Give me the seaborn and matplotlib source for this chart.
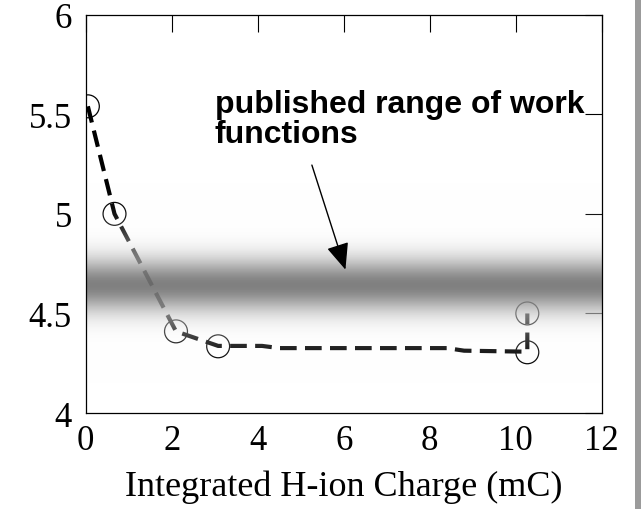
import numpy as np
import pandas as pd
import matplotlib
matplotlib.use("Agg")
import matplotlib.pyplot as plt
import seaborn as sns
from matplotlib.patches import Rectangle, ArrowStyle

# Measured work function vs. integrated H-ion charge
charge_mC = [0.05, 0.67, 2.10, 3.08, 10.27, 10.27]
work_fn_eV = [5.54, 5.00, 4.41, 4.335, 4.305, 4.50]

# Dashed trend line through the measurements
trend_charge = [0.05, 0.67, 2.10, 3.08, 4.10, 4.50, 8.40, 8.80, 10.27, 10.27]
trend_work_fn = [5.54, 5.00, 4.41, 4.337, 4.337, 4.326, 4.326, 4.313, 4.308, 4.50]

# Published work-function range shown as a shaded band
band_center = 4.64

x_ticks = [0, 2, 4, 6, 8, 10, 12]
x_tick_labels = ["0", "2", "4", "6", "8", "10", "12"]
y_ticks = [4.0, 4.5, 5.0, 5.5, 6.0]
y_tick_labels = ["4", "4.5", "5", "5.5", "6"]

x_label = "Integrated H-ion Charge (mC)"
note_text = "published range of work\nfunctions"

sns.set_style("white")
plt.rcParams["font.family"] = ["Liberation Serif", "DejaVu Serif"]
plt.rcParams["text.color"] = "black"
plt.rcParams["axes.labelcolor"] = "black"
plt.rcParams["xtick.color"] = "black"
plt.rcParams["ytick.color"] = "black"

fig = plt.figure(figsize=(6.41, 5.10), dpi=100)
ax = fig.add_axes([0.1337, 0.1882, 0.8050, 0.7810])

trend = pd.DataFrame({"charge": trend_charge, "wf": trend_work_fn})
points = pd.DataFrame({"charge": charge_mC, "wf": work_fn_eV})

sns.lineplot(data=trend, x="charge", y="wf", sort=False, estimator=None,
             ax=ax, color="black", lw=3.0, zorder=2)
ax.lines[-1].set_dashes([4, 2])
ax.lines[-1].set_dash_capstyle("butt")

sns.scatterplot(data=points, x="charge", y="wf", ax=ax, s=272,
                marker="o", facecolors="none", edgecolor="black",
                linewidth=0.9, zorder=2.2, clip_on=True)

# Shaded band: per-row grey colour and opacity, drawn over the data
yy = np.linspace(4.15, 5.15, 500)
d = np.abs(yy - band_center)
alpha = 0.92 * np.exp(-(d / 0.23) ** 2)
dark = 127 * np.exp(-(d / 0.13) ** 2)
col = np.clip(255 - dark / np.maximum(alpha, 1e-6), 0, 255) / 255.0
rgba = np.zeros((len(yy), 1, 4))
rgba[:, 0, 0] = col
rgba[:, 0, 1] = col
rgba[:, 0, 2] = col
rgba[:, 0, 3] = alpha
ax.imshow(rgba, origin="lower", extent=[0, 12, yy[0], yy[-1]],
          aspect="auto", interpolation="bilinear", zorder=3)

ax.set_xlim(0, 12)
ax.set_ylim(4, 6)
ax.set_xticks(x_ticks)
ax.set_xticklabels(x_tick_labels)
ax.set_yticks(y_ticks)
ax.set_yticklabels(y_tick_labels)
ax.set_xlabel(x_label, fontsize=26, labelpad=9)
ax.set_ylabel("")

ax.tick_params(axis="both", direction="in", length=12, width=0.8,
               colors="black", labelsize=25, top=True, right=True)
ax.tick_params(axis="x", pad=8)
ax.tick_params(axis="y", pad=10)

for s in ax.spines.values():
    s.set_visible(True)
    s.set_color("black")
    s.set_linewidth(0.9)
    s.set_zorder(4)

ax.text(3.0, 5.36, note_text, fontsize=23, fontweight="bold", color="black",
        family=["Liberation Sans", "DejaVu Sans"], va="baseline",
        ha="left", linespacing=1.0, zorder=5)
ax.annotate("", xy=(6.04, 4.72), xytext=(5.26, 5.245),
            arrowprops=dict(arrowstyle=ArrowStyle("-|>", head_length=0.4,
                                                  head_width=0.17),
                            mutation_scale=41, lw=1.0, color="black",
                            shrinkA=0, shrinkB=0),
            zorder=5)

# Grey strip along the right edge of the figure
fig.add_artist(Rectangle((635 / 641, 0), 6 / 641, 1, transform=fig.transFigure,
                         color="#9b9b9b", lw=0))

fig.savefig("out.png", dpi=100)
